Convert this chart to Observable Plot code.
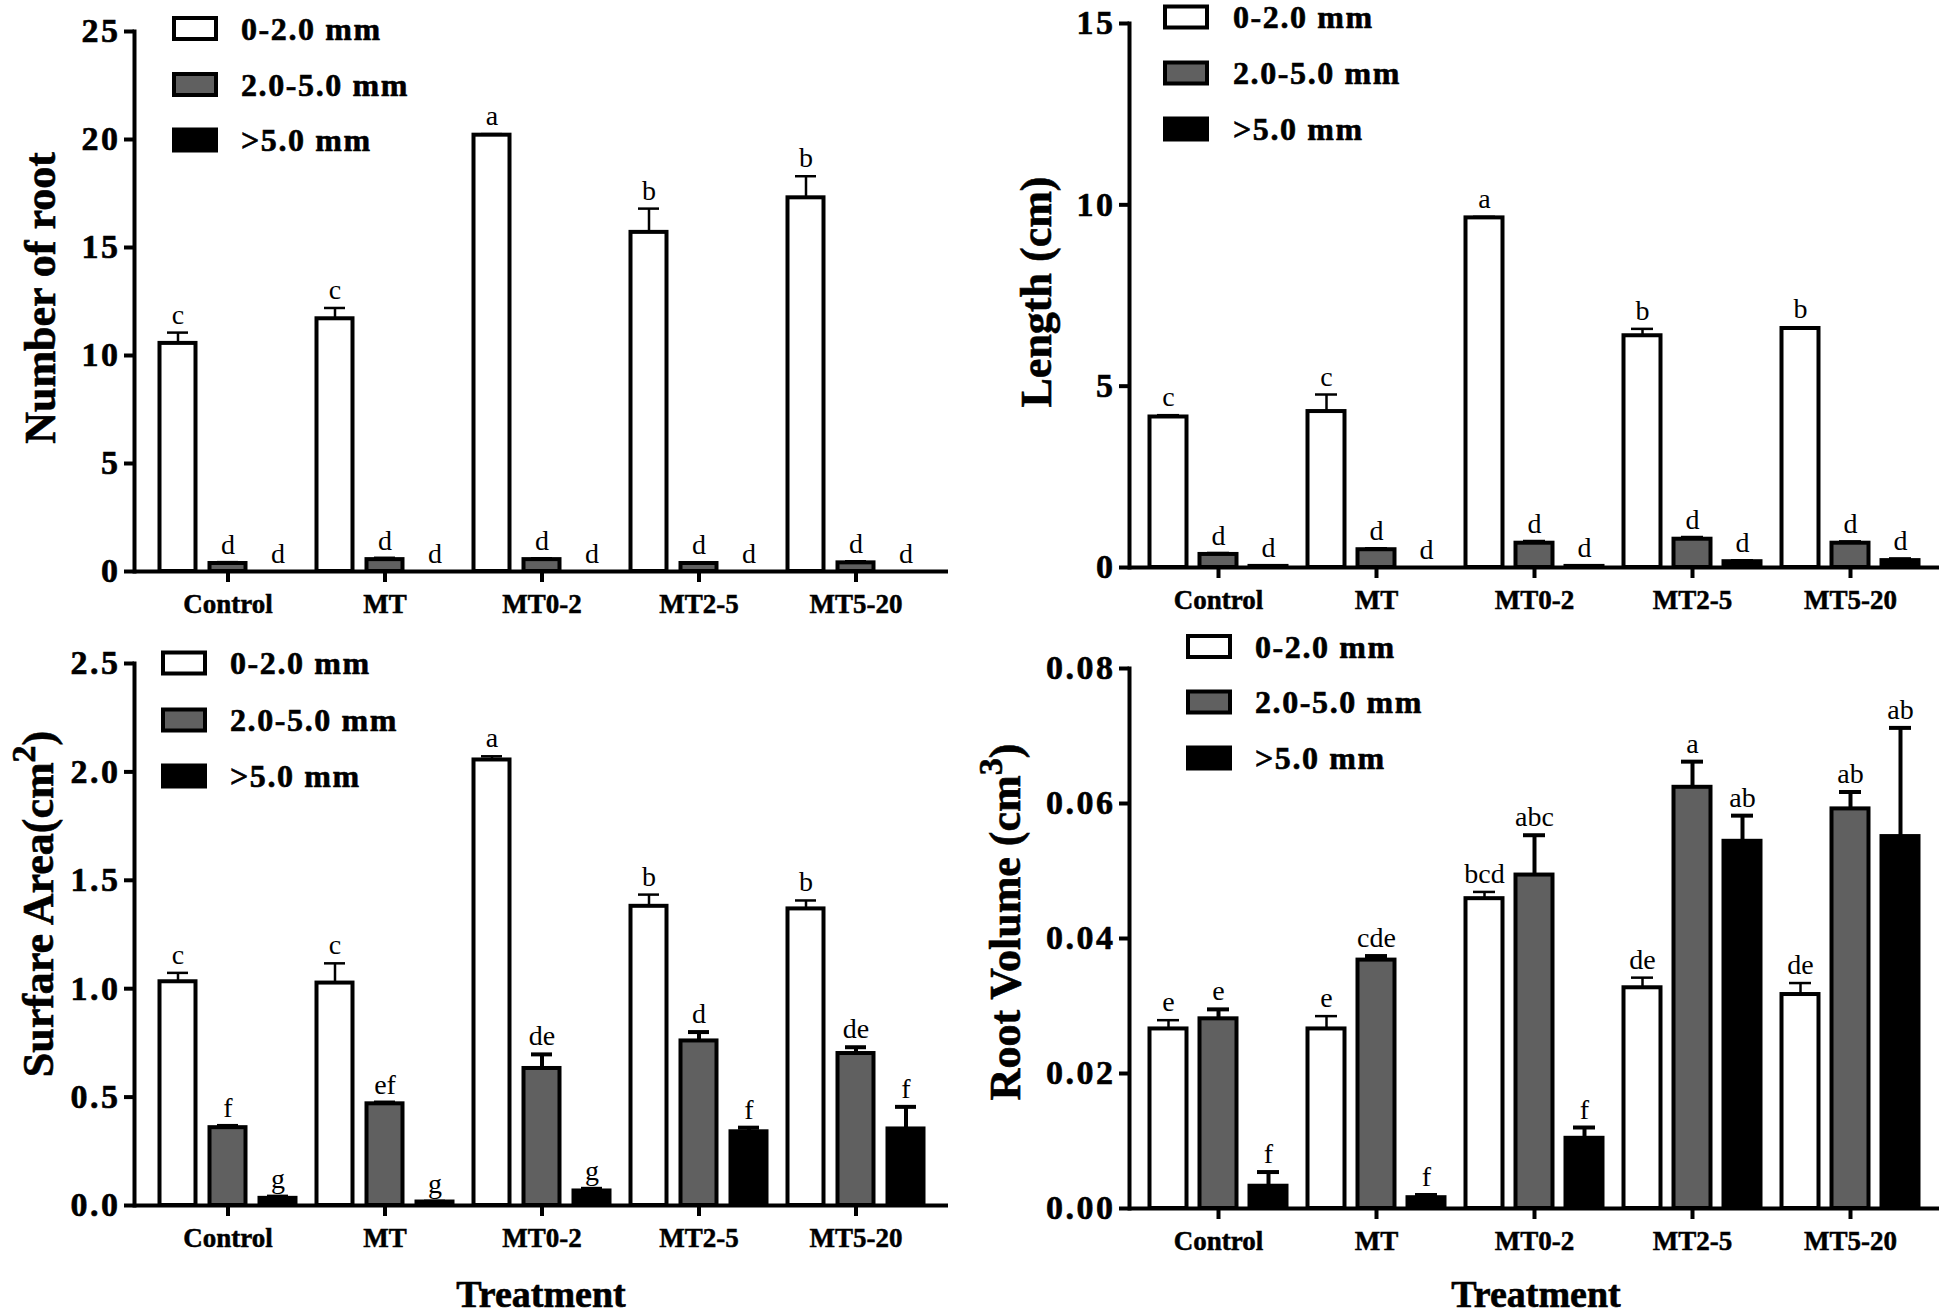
<!DOCTYPE html>
<html><head><meta charset="utf-8">
<script src="https://cdn.jsdelivr.net/npm/d3@7"></script>
<script src="https://cdn.jsdelivr.net/npm/@observablehq/plot@0.6"></script>
<style>
html,body{margin:0;padding:0;background:#fff;}
#wrap{position:relative;width:1946px;height:1314px;overflow:hidden;background:#fff;font-family:"Liberation Serif","Times New Roman",serif;}
#wrap > svg{position:absolute;}
[aria-label="y-axis tick label"] text{letter-spacing:2.5px;stroke:black;stroke-width:0.6px;}
[aria-label="x-axis tick label"] text{stroke:black;stroke-width:0.5px;}
.boldtxt{stroke:black;stroke-width:0.6px;}
</style></head><body><div id="wrap"></div>
<script>
// ---------- data ----------
const treatments = ["Control", "MT", "MT0-2", "MT2-5", "MT5-20"];
const seriesNames = ["0-2.0 mm", "2.0-5.0 mm", ">5.0 mm"];

// Number of root
const rootNumFine = [10.56, 11.7, 20.2, 15.7, 17.3];
const rootNumFineErr = [0.5, 0.5, 0.05, 1.1, 1.0];
const rootNumMid = [0.37, 0.55, 0.55, 0.37, 0.4];
const rootNumMidErr = [0.03, 0.05, 0.03, 0.02, 0.04];
const rootNumCoarse = [0, 0, 0, 0, 0];
const rootNumCoarseErr = [0, 0, 0, 0, 0];
const rootNumLetters = [["c", "c", "a", "b", "b"], ["d", "d", "d", "d", "d"], ["d", "d", "d", "d", "d"]];

// Length (cm)
const lengthFine = [4.15, 4.3, 9.64, 6.39, 6.59];
const lengthFineErr = [0.05, 0.47, 0.03, 0.19, 0.03];
const lengthMid = [0.36, 0.49, 0.67, 0.78, 0.67];
const lengthMidErr = [0.02, 0.02, 0.04, 0.04, 0.03];
const lengthCoarse = [0.03, 0, 0.03, 0.16, 0.19];
const lengthCoarseErr = [0, 0, 0, 0.02, 0.04];
const lengthLetters = [["c", "c", "a", "b", "b"], ["d", "d", "d", "d", "d"], ["d", "d", "d", "d", "d"]];

// Surface area (cm2)
const areaFine = [1.032, 1.026, 2.055, 1.38, 1.368];
const areaFineErr = [0.041, 0.091, 0.017, 0.054, 0.039];
const areaMid = [0.359, 0.469, 0.632, 0.759, 0.701];
const areaMidErr = [0.008, 0.006, 0.065, 0.041, 0.029];
const areaCoarse = [0.033, 0.016, 0.067, 0.34, 0.353];
const areaCoarseErr = [0.008, 0.002, 0.01, 0.019, 0.102];
const areaLetters = [["c", "c", "a", "b", "b"], ["f", "ef", "de", "d", "de"], ["g", "g", "g", "f", "f"]];

// Root volume (cm3)
const volFine = [0.0266, 0.0266, 0.0459, 0.0327, 0.0317];
const volFineErr = [0.0013, 0.0019, 0.001, 0.0015, 0.0017];
const volMid = [0.0281, 0.0368, 0.0494, 0.0624, 0.0592];
const volMidErr = [0.0014, 0.0006, 0.0059, 0.0038, 0.0025];
const volCoarse = [0.0033, 0.0016, 0.0104, 0.0544, 0.0551];
const volCoarseErr = [0.0021, 0.0004, 0.0016, 0.0038, 0.0161];
const volLetters = [["e", "e", "bcd", "de", "de"], ["e", "cde", "abc", "a", "ab"], ["f", "f", "f", "ab", "ab"]];

// y-axis ticks
const ticksNum = [0, 5, 10, 15, 20, 25];
const ticksLen = [0, 5, 10, 15];
const ticksArea = [0, 0.5, 1.0, 1.5, 2.0, 2.5];
const ticksVol = [0, 0.02, 0.04, 0.06, 0.08];

// ---------- drawing ----------
const fills = ["#ffffff", "#606060", "#000000"];
const offs = [-50, 0, 50];
const FONT = '"Liberation Serif","Times New Roman",serif';
const wrap = document.getElementById("wrap");

function panel(o) {
  const means = o.means, errs = o.errs, letters = o.letters;
  const rows = [0, 1, 2].map(s => treatments.map((t, i) => ({
    treatment: t, series: seriesNames[s], value: means[s][i], err: errs[s][i],
    top: means[s][i] + errs[s][i], letter: letters[s][i]
  })));
  const marks = [];
  rows.forEach((r, s) => {
    const sw = s === 0 ? 2.5 : 4;
    const withErr = r.filter(d => d.err > 0);
    marks.push(Plot.ruleX(withErr, {x: "treatment", y1: "value", y2: "top", dx: offs[s], stroke: "black", strokeWidth: sw}));
    marks.push(Plot.tickY(withErr, {x: "treatment", y: "top", dx: offs[s], insetLeft: 68, insetRight: 68, stroke: "black", strokeWidth: sw}));
  });
  rows.forEach((r, s) => {
    marks.push(Plot.barY(r, {x: "treatment", y: "value", fill: fills[s], stroke: "black", strokeWidth: 4,
      insetLeft: 60.5, insetRight: 60.5, dx: offs[s]}));
  });
  rows.forEach((r, s) => {
    marks.push(Plot.text(r, {x: "treatment", y: "top", text: "letter", dx: offs[s], dy: -9,
      lineAnchor: "bottom", fontSize: 28, fontFamily: FONT, fill: "black"}));
  });
  marks.push(Plot.ruleY([0], {stroke: "black", strokeWidth: 4}));
  marks.push(Plot.frame({anchor: "left", stroke: "black", strokeWidth: 4}));
  marks.push(Plot.axisY({ticks: o.ticks, tickFormat: o.fmt, tickSize: 10, tickPadding: 4, strokeWidth: 4,
    fontSize: 34, fontWeight: "bold", fontFamily: FONT, label: null, fill: "black"}));
  marks.push(Plot.axisX({tickSize: 11, tickPadding: 11, strokeWidth: 4, fontSize: 27, fontWeight: "bold",
    fontFamily: FONT, label: null, fill: "black"}));

  const svg = Plot.plot({
    width: o.width, height: o.height,
    marginTop: o.mt, marginBottom: o.mb, marginLeft: o.ml, marginRight: o.mr,
    x: {domain: treatments, paddingInner: 0, paddingOuter: o.po},
    y: {domain: o.domain},
    style: {background: "transparent", overflow: "visible", fontFamily: FONT, color: "black"},
    marks
  });
  svg.style.left = o.left + "px";
  svg.style.top = o.top + "px";
  wrap.appendChild(svg);
}

panel({means: [rootNumFine, rootNumMid, rootNumCoarse], errs: [rootNumFineErr, rootNumMidErr, rootNumCoarseErr],
  letters: rootNumLetters, domain: [0, 25], ticks: ticksNum, fmt: d3.format("d"),
  left: 0, top: 0, width: 973, height: 620, mt: 31, mb: 49, ml: 134, mr: 25, po: 0.076});
panel({means: [lengthFine, lengthMid, lengthCoarse], errs: [lengthFineErr, lengthMidErr, lengthCoarseErr],
  letters: lengthLetters, domain: [0, 15], ticks: ticksLen, fmt: d3.format("d"),
  left: 973, top: 0, width: 973, height: 620, mt: 23, mb: 53, ml: 156, mr: 7, po: 0.063});
panel({means: [areaFine, areaMid, areaCoarse], errs: [areaFineErr, areaMidErr, areaCoarseErr],
  letters: areaLetters, domain: [0, 2.5], ticks: ticksArea, fmt: d3.format(".1f"),
  left: 0, top: 620, width: 973, height: 694, mt: 43, mb: 109, ml: 134, mr: 25, po: 0.076});
panel({means: [volFine, volMid, volCoarse], errs: [volFineErr, volMidErr, volCoarseErr],
  letters: volLetters, domain: [0, 0.08], ticks: ticksVol, fmt: d3.format(".2f"),
  left: 973, top: 620, width: 973, height: 694, mt: 48, mb: 106, ml: 156, mr: 7, po: 0.063});

// ---------- titles and legends ----------
const NS = "http://www.w3.org/2000/svg";
const ov = document.createElementNS(NS, "svg");
ov.setAttribute("width", 1946); ov.setAttribute("height", 1314);
ov.style.left = "0px"; ov.style.top = "0px"; ov.style.pointerEvents = "none";
ov.setAttribute("font-family", FONT);
wrap.appendChild(ov);

function yTitle(x, y, main, sup, tail) {
  const t = document.createElementNS(NS, "text");
  t.setAttribute("transform", `translate(${x},${y}) rotate(-90)`);
  t.setAttribute("text-anchor", "middle");
  t.setAttribute("font-size", 44);
  t.setAttribute("font-weight", "bold");
  t.setAttribute("fill", "black");
  t.setAttribute("class", "boldtxt");
  const a = document.createElementNS(NS, "tspan"); a.textContent = main; t.appendChild(a);
  if (sup) {
    const b = document.createElementNS(NS, "tspan"); b.textContent = sup;
    b.setAttribute("dy", -18); b.setAttribute("font-size", 34); t.appendChild(b);
    const c = document.createElementNS(NS, "tspan"); c.textContent = tail;
    c.setAttribute("dy", 18); t.appendChild(c);
  }
  ov.appendChild(t);
}
yTitle(55, 298, "Number of root");
yTitle(1051, 292, "Length (cm)");
yTitle(53, 904, "Surfare Area(cm", "2", ")");
yTitle(1020, 922, "Root Volume (cm", "3", ")");

function xTitle(x, y, s) {
  const t = document.createElementNS(NS, "text");
  t.setAttribute("x", x); t.setAttribute("y", y);
  t.setAttribute("text-anchor", "middle");
  t.setAttribute("font-size", 38); t.setAttribute("font-weight", "bold"); t.setAttribute("fill", "black");
  t.setAttribute("class", "boldtxt");
  t.textContent = s; ov.appendChild(t);
}
xTitle(541, 1307, "Treatment");
xTitle(1536, 1307, "Treatment");

function legend(x, rowsY, textX) {
  seriesNames.forEach((name, i) => {
    const r = document.createElementNS(NS, "rect");
    r.setAttribute("x", x); r.setAttribute("y", rowsY[i] - 10.5);
    r.setAttribute("width", 42); r.setAttribute("height", 21);
    r.setAttribute("fill", fills[i]); r.setAttribute("stroke", "black"); r.setAttribute("stroke-width", 4);
    ov.appendChild(r);
    const t = document.createElementNS(NS, "text");
    t.setAttribute("x", textX); t.setAttribute("y", rowsY[i] + 11);
    t.setAttribute("font-size", 32); t.setAttribute("font-weight", "bold"); t.setAttribute("fill", "black");
    t.setAttribute("letter-spacing", "1.6px");
    t.setAttribute("class", "boldtxt");
    t.textContent = name; ov.appendChild(t);
  });
}
legend(174, [28.5, 84.5, 140], 241);
legend(1165, [17, 73, 129], 1233);
legend(163, [663, 720, 776], 230);
legend(1188, [646.5, 702, 758], 1255);
</script>
</body></html>
